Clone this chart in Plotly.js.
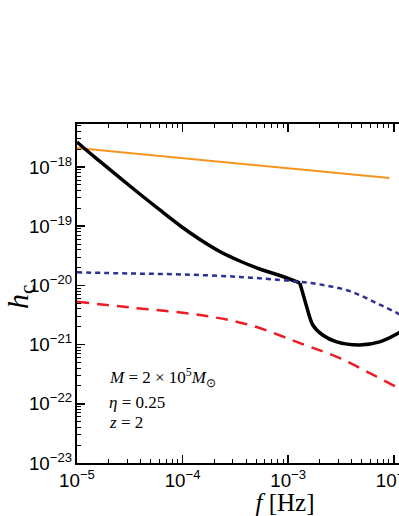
<!DOCTYPE html>
<html>
<head>
<meta charset="utf-8">
<script src="https://cdn.plot.ly/plotly-3.0.1.min.js"></script>
<style>
  html, body { margin: 0; padding: 0; overflow: hidden; background: #fff; }
  #chart { width: 500px; height: 516px; }
</style>
</head>
<body>
<div id="chart"></div>
<script>
// values (log-log)
const orangeF = [1e-5, 9.1e-3];
const orangeH = [2.1e-18, 6.5e-19];

// black curve: smooth part up to the kink near 1.3e-3 Hz, then the dip
const blackF1 = [1e-5, 1.19e-5, 1.65e-5, 3.17e-5, 6.09e-5, 1e-4, 1.46e-4, 2.25e-4, 3.48e-4, 5.38e-4, 8.34e-4, 1.29e-3];
const blackH1 = [2.64e-18, 2.01e-18, 1.24e-18, 4.77e-19, 1.88e-19, 9.5e-20, 5.96e-20, 3.74e-20, 2.58e-20, 1.89e-20, 1.47e-20, 1.1e-20];
const blackF2 = [1.29e-3, 1.4e-3, 1.5e-3, 1.71e-3, 2.12e-3, 2.88e-3, 4.76e-3, 7.35e-3, 1.11e-2, 1.41e-2];
const blackH2 = [1.1e-20, 6.6e-21, 4.3e-21, 2.14e-21, 1.45e-21, 1.11e-21, 9.85e-22, 1.11e-21, 1.57e-21, 2.06e-21];

const blueF = [1e-5, 3.17e-5, 1e-4, 3.48e-4, 1.035e-3, 1.99e-3, 3.83e-3, 6.89e-3, 1.11e-2, 1.41e-2];
const blueH = [1.66e-20, 1.59e-20, 1.53e-20, 1.39e-20, 1.19e-20, 1.04e-20, 8.0e-21, 5.0e-21, 3.3e-21, 2.5e-21];

const redF = [1e-5, 3.17e-5, 1.46e-4, 4.33e-4, 1.29e-3, 3.08e-3, 6.89e-3, 1.11e-2, 1.41e-2];
const redH = [5.3e-21, 4.24e-21, 3.16e-21, 2.14e-21, 1.06e-21, 5.9e-22, 2.87e-22, 1.83e-22, 1.41e-22];

const paramLines = [
  '<i>M</i> = 2 × 10<sup>5</sup><i>M</i><sub>⊙</sub>',
  '<i>η</i> = 0.25',
  '<i>z</i> = 2'
];
const paramY = [0.251, 0.177, 0.118];

const serif = 'Liberation Serif, Times New Roman, serif';

const traceOrange = {
  x: orangeF, y: orangeH, type: 'scatter', mode: 'lines',
  line: { color: '#f7941d', width: 2 }
};
const traceBlack1 = {
  x: blackF1, y: blackH1, type: 'scatter', mode: 'lines',
  line: { color: '#000000', width: 3.5, shape: 'spline' }
};
const traceBlack2 = {
  x: blackF2, y: blackH2, type: 'scatter', mode: 'lines',
  line: { color: '#000000', width: 3.5, shape: 'spline', smoothing: 0.8 }
};
const traceBlue = {
  x: blueF, y: blueH, type: 'scatter', mode: 'lines',
  line: { color: '#2e3192', width: 2.5, dash: '5px,4px', shape: 'spline' }
};
const traceRed = {
  x: redF, y: redH, type: 'scatter', mode: 'lines',
  line: { color: '#ed1c24', width: 2.5, dash: '12px,8px', shape: 'spline' }
};

const axisCommon = {
  type: 'log',
  dtick: 1,
  exponentformat: 'power',
  showgrid: false,
  zeroline: false,
  showline: true,
  linecolor: '#000',
  linewidth: 2,
  mirror: 'allticks',
  ticks: 'inside',
  ticklen: 8,
  tickwidth: 1.5,
  tickcolor: '#000',
  tickfont: { family: 'Arial, Liberation Sans, sans-serif', size: 15, color: '#000' },
  minor: { ticks: 'inside', ticklen: 4, tickwidth: 1, tickcolor: '#000', dtick: 'D1', showgrid: false }
};

const annots = paramLines.map((t, i) => ({
  text: t,
  xref: 'paper', yref: 'paper',
  x: 0.072, y: paramY[i],
  xanchor: 'left', yanchor: 'middle',
  showarrow: false,
  font: { family: serif, size: 17, color: '#000' }
}));

// y axis title, rotated
annots.push({
  text: '<i>h</i><sub>c</sub>',
  xref: 'paper', yref: 'paper',
  x: -0.137, y: 0.49,
  xanchor: 'center', yanchor: 'middle',
  textangle: -90,
  showarrow: false,
  font: { family: serif, size: 30, color: '#000' }
});

const layout = {
  width: 500,
  height: 516,
  margin: { l: 77, r: 7, t: 124, b: 53 },
  paper_bgcolor: '#fff',
  plot_bgcolor: '#fff',
  showlegend: false,
  xaxis: Object.assign({}, axisCommon, {
    range: [-5, -1.06],
    title: {
      text: '<i>f</i> [Hz]',
      font: { family: serif, size: 25, color: '#000' },
      standoff: 9
    }
  }),
  yaxis: Object.assign({}, axisCommon, {
    range: [-23, -17.274]
  }),
  annotations: annots
};

const data = [traceOrange, traceBlack1, traceBlack2, traceBlue, traceRed];

Plotly.newPlot('chart', data, layout, { staticPlot: true, displayModeBar: false });
</script>
</body>
</html>
